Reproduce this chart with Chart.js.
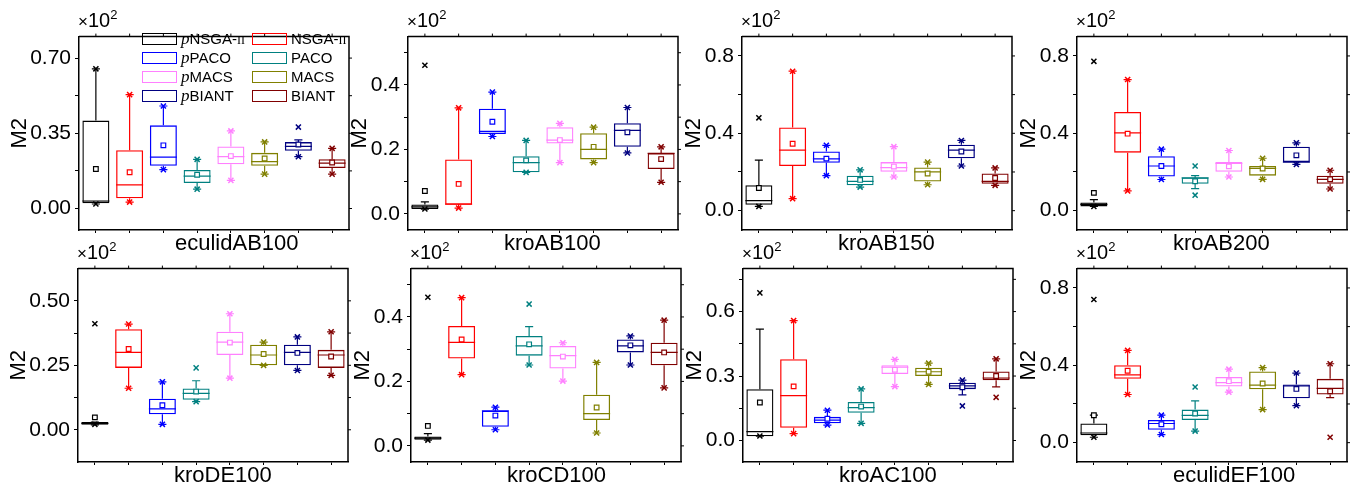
<!DOCTYPE html>
<html>
<head>
<meta charset="utf-8">
<script src="https://cdn.jsdelivr.net/npm/chart.js@4.4.0/dist/chart.umd.min.js"></script>
<style>
body { margin: 0; width: 1356px; height: 489px; background: #fff; position: relative; overflow: hidden;
       font-family: "Liberation Sans", Arial, sans-serif; color: #000; }
canvas { position: absolute; }
.mult { position: absolute; font-size: 20px; line-height: 20px; white-space: nowrap; z-index: 2; }
.mult .x { font-size: 17px; }
.mult sup { font-size: 13px; vertical-align: 8px; line-height: 0; }
.xtitle { position: absolute; font-size: 22px; line-height: 22px; white-space: nowrap; z-index: 2; }
.lg-rect { position: absolute; width: 35px; height: 12px; box-sizing: border-box; border: 1.5px solid; z-index: 2; }
.lg-text { position: absolute; font-size: 15px; line-height: 15px; white-space: nowrap; z-index: 2; }
.lg-text i { font-family: "Liberation Serif", serif; font-size: 17px; }
.lg-text .sc { font-family: "Liberation Serif", serif; font-size: 12px; }
</style>
</head>
<body>
<script>
// Panels (instances) and algorithms
const panels = ['eculidAB100', 'kroAB100', 'kroAB150', 'kroAB200', 'kroDE100', 'kroCD100', 'kroAC100', 'eculidEF100'];
const algorithms = ['pNSGA-II', 'NSGA-II', 'pPACO', 'PACO', 'pMACS', 'MACS', 'pBIANT', 'BIANT'];
const colors = ['#000000', '#FF0000', '#0000FF', '#008080', '#FF80FF', '#808000', '#000080', '#800000'];

// Y axis per panel (values shown are x10^2)
const yMin = [-0.1, -0.05, -0.1, -0.1, -0.125, -0.05, -0.1, -0.1];
const yMax = [0.8, 0.55, 0.9, 0.9, 0.625, 0.55, 0.8, 0.9];
const yMajor = [
    [0, 0.35, 0.70], [0, 0.2, 0.4], [0, 0.4, 0.8], [0, 0.4, 0.8],
    [0, 0.25, 0.50], [0, 0.2, 0.4], [0, 0.3, 0.6], [0, 0.4, 0.8]
];
const yDecimals = [2, 1, 1, 1, 2, 1, 1, 1];

// Box statistics, one row per panel, one value per algorithm
const q1 = [
    [0.025, 0.048, 0.199, 0.119, 0.206, 0.199, 0.269, 0.188],
    [0.015, 0.028, 0.248, 0.129, 0.218, 0.169, 0.208, 0.139],
    [0.030, 0.231, 0.248, 0.131, 0.201, 0.151, 0.271, 0.139],
    [0.022, 0.300, 0.177, 0.139, 0.201, 0.181, 0.251, 0.139],
    [0.019, 0.240, 0.060, 0.116, 0.290, 0.250, 0.250, 0.240],
    [0.019, 0.271, 0.059, 0.280, 0.240, 0.080, 0.290, 0.250],
    [0.020, 0.059, 0.080, 0.129, 0.309, 0.300, 0.239, 0.281],
    [0.038, 0.330, 0.067, 0.117, 0.290, 0.276, 0.229, 0.249]
];
const median = [
    [0.035, 0.110, 0.239, 0.151, 0.241, 0.218, 0.289, 0.211],
    [0.022, 0.030, 0.256, 0.159, 0.229, 0.200, 0.259, 0.188],
    [0.052, 0.313, 0.268, 0.151, 0.223, 0.201, 0.313, 0.151],
    [0.032, 0.402, 0.231, 0.170, 0.245, 0.219, 0.251, 0.162],
    [0.025, 0.300, 0.081, 0.141, 0.340, 0.290, 0.300, 0.290],
    [0.024, 0.321, 0.109, 0.310, 0.280, 0.100, 0.310, 0.290],
    [0.041, 0.209, 0.095, 0.153, 0.341, 0.320, 0.254, 0.291],
    [0.050, 0.350, 0.099, 0.141, 0.310, 0.298, 0.293, 0.281]
];
const q3 = [
    [0.409, 0.271, 0.387, 0.179, 0.289, 0.259, 0.309, 0.229],
    [0.029, 0.169, 0.326, 0.179, 0.269, 0.250, 0.281, 0.188],
    [0.131, 0.430, 0.306, 0.181, 0.251, 0.223, 0.341, 0.192],
    [0.042, 0.510, 0.281, 0.172, 0.251, 0.231, 0.331, 0.181],
    [0.030, 0.390, 0.120, 0.160, 0.380, 0.330, 0.330, 0.310],
    [0.029, 0.372, 0.109, 0.341, 0.310, 0.159, 0.330, 0.320],
    [0.239, 0.378, 0.110, 0.179, 0.350, 0.339, 0.269, 0.321],
    [0.099, 0.400, 0.117, 0.171, 0.340, 0.368, 0.301, 0.330]
];
const mean = [
    [0.184, 0.169, 0.294, 0.157, 0.244, 0.233, 0.298, 0.214],
    [0.071, 0.093, 0.286, 0.166, 0.229, 0.208, 0.253, 0.170],
    [0.117, 0.346, 0.269, 0.159, 0.228, 0.192, 0.306, 0.169],
    [0.092, 0.398, 0.231, 0.152, 0.229, 0.218, 0.286, 0.162],
    [0.048, 0.313, 0.095, 0.148, 0.338, 0.294, 0.298, 0.284],
    [0.062, 0.330, 0.094, 0.315, 0.277, 0.119, 0.312, 0.290],
    [0.177, 0.252, 0.101, 0.158, 0.329, 0.320, 0.248, 0.300],
    [0.142, 0.372, 0.095, 0.151, 0.318, 0.306, 0.278, 0.266]
];
const whiskerLow = [
    [0.021, 0.030, 0.181, 0.090, 0.131, 0.160, 0.241, 0.160],
    [0.015, 0.018, 0.240, 0.129, 0.159, 0.159, 0.189, 0.098],
    [0.022, 0.062, 0.181, 0.122, 0.174, 0.134, 0.231, 0.131],
    [0.022, 0.102, 0.161, 0.114, 0.174, 0.162, 0.239, 0.112],
    [0.019, 0.161, 0.021, 0.109, 0.200, 0.250, 0.230, 0.211],
    [0.018, 0.221, 0.050, 0.251, 0.201, 0.040, 0.251, 0.180],
    [0.020, 0.032, 0.072, 0.080, 0.251, 0.261, 0.212, 0.250],
    [0.028, 0.249, 0.042, 0.060, 0.261, 0.171, 0.191, 0.233]
];
const whiskerHigh = [
    [0.650, 0.530, 0.477, 0.229, 0.361, 0.310, 0.319, 0.280],
    [0.037, 0.329, 0.378, 0.228, 0.281, 0.269, 0.330, 0.208],
    [0.261, 0.721, 0.338, 0.211, 0.331, 0.251, 0.363, 0.221],
    [0.057, 0.678, 0.318, 0.181, 0.311, 0.271, 0.351, 0.209],
    [0.030, 0.410, 0.186, 0.190, 0.450, 0.340, 0.360, 0.380],
    [0.038, 0.460, 0.120, 0.370, 0.320, 0.259, 0.341, 0.390],
    [0.518, 0.558, 0.141, 0.240, 0.378, 0.360, 0.281, 0.380],
    [0.142, 0.477, 0.142, 0.216, 0.380, 0.388, 0.360, 0.408]
];
// x markers (extreme values)
const crossLow = [
    [0.021, 0.030, 0.181, 0.090, 0.131, 0.160, 0.241, 0.160],
    [0.015, 0.018, 0.240, 0.129, 0.159, 0.159, 0.189, 0.098],
    [0.022, 0.062, 0.181, 0.122, 0.174, 0.134, 0.231, 0.131],
    [0.022, 0.102, 0.161, 0.080, 0.174, 0.162, 0.239, 0.112],
    [0.021, 0.161, 0.021, 0.109, 0.200, 0.250, 0.230, 0.211],
    [0.018, 0.221, 0.050, 0.251, 0.201, 0.040, 0.251, 0.180],
    [0.021, 0.032, 0.072, 0.080, 0.251, 0.261, 0.161, 0.201],
    [0.028, 0.249, 0.042, 0.060, 0.261, 0.171, 0.191, 0.028]
];
const crossHigh = [
    [0.650, 0.530, 0.477, 0.229, 0.361, 0.310, 0.379, 0.280],
    [0.461, 0.329, 0.378, 0.228, 0.281, 0.269, 0.330, 0.208],
    [0.480, 0.721, 0.338, 0.211, 0.331, 0.251, 0.363, 0.221],
    [0.772, 0.678, 0.318, 0.231, 0.311, 0.271, 0.351, 0.209],
    [0.411, 0.410, 0.186, 0.240, 0.450, 0.340, 0.360, 0.380],
    [0.461, 0.460, 0.120, 0.440, 0.320, 0.259, 0.341, 0.390],
    [0.687, 0.558, 0.141, 0.240, 0.378, 0.360, 0.281, 0.380],
    [0.740, 0.477, 0.142, 0.288, 0.380, 0.388, 0.360, 0.408]
];

// Page layout: plot area of each panel
const plotLeft = [79, 408, 742, 1077, 78, 411, 743, 1077];
const plotTop = [30, 30, 30, 30, 262, 262, 262, 262];
const plotW = 270, plotH = 200;
const PAD_L = 75, PAD_T = 10, PAD_R = 8, PAD_B = 30;

// major ticks plus half-step minor ticks
function buildTicks(p) {
    const major = yMajor[p];
    const step = (major[1] - major[0]) / 2;
    const out = [];
    const start = Math.ceil(yMin[p] / step - 1e-9);
    const end = Math.floor(yMax[p] / step + 1e-9);
    for (let k = start; k <= end; k++) {
        const v = +(k * step).toFixed(6);
        if (v > yMin[p] + 1e-9 && v < yMax[p] - 1e-9) out.push(v);
    }
    return out;
}
function isMajor(p, v) {
    return yMajor[p].some(m => Math.abs(m - v) < 1e-6);
}

// median, whiskers and caps
const boxParts = {
    id: 'boxParts',
    beforeDatasetsDraw(chart, args, opts) {
        const p = opts.panel;
        const ctx = chart.ctx;
        const y = chart.scales.y;
        const meta = chart.getDatasetMeta(3);
        ctx.save();
        ctx.lineWidth = 1.2;
        meta.data.forEach((bar, i) => {
            const x = bar.x, hw = bar.width / 2, cap = hw * 0.3;
            const py = v => y.getPixelForValue(v);
            ctx.strokeStyle = colors[i];
            ctx.beginPath();
            ctx.moveTo(x - hw, py(median[p][i]));
            ctx.lineTo(x + hw, py(median[p][i]));
            ctx.moveTo(x, py(q3[p][i]));
            ctx.lineTo(x, py(whiskerHigh[p][i]));
            ctx.moveTo(x, py(q1[p][i]));
            ctx.lineTo(x, py(whiskerLow[p][i]));
            ctx.moveTo(x - cap, py(whiskerHigh[p][i]));
            ctx.lineTo(x + cap, py(whiskerHigh[p][i]));
            ctx.moveTo(x - cap, py(whiskerLow[p][i]));
            ctx.lineTo(x + cap, py(whiskerLow[p][i]));
            ctx.stroke();
        });
        ctx.restore();
    }
};

// top / right frame with outward ticks
const frame = {
    id: 'frame',
    afterDraw(chart) {
        const {ctx, chartArea: a, scales} = chart;
        ctx.save();
        ctx.strokeStyle = '#000';
        ctx.lineWidth = 1.5;
        ctx.beginPath();
        ctx.moveTo(a.left, a.top);
        ctx.lineTo(a.right, a.top);
        ctx.lineTo(a.right, a.bottom);
        ctx.stroke();
        ctx.lineWidth = 1;
        ctx.beginPath();
        scales.x.ticks.forEach((t, i) => {
            const x = scales.x.getPixelForTick(i);
            ctx.moveTo(x, a.top);
            ctx.lineTo(x, a.top - 3);
        });
        scales.y.ticks.forEach(t => {
            const yy = scales.y.getPixelForValue(t.value);
            ctx.moveTo(a.right, yy);
            ctx.lineTo(a.right + 3, yy);
        });
        ctx.stroke();
        ctx.restore();
    }
};

function makePanel(p) {
    const cv = document.createElement('canvas');
    cv.width = PAD_L + plotW + PAD_R;
    cv.height = PAD_T + plotH + PAD_B;
    cv.style.left = (plotLeft[p] - PAD_L) + 'px';
    cv.style.top = (plotTop[p] - PAD_T) + 'px';
    document.body.appendChild(cv);
    const dec = yDecimals[p];

    new Chart(cv.getContext('2d'), {
        type: 'bar',
        data: {
            labels: algorithms,
            datasets: [
                {
                    type: 'line', data: mean[p], showLine: false, order: 0,
                    pointStyle: 'rect', pointRadius: 3.3, pointBorderWidth: 1.2,
                    pointBackgroundColor: '#fff', pointBorderColor: colors
                },
                {
                    type: 'line', data: crossLow[p], showLine: false, order: 0,
                    pointStyle: 'crossRot', pointRadius: 3.6, pointBorderWidth: 1.5,
                    pointBorderColor: colors
                },
                {
                    type: 'line', data: crossHigh[p], showLine: false, order: 0,
                    pointStyle: 'crossRot', pointRadius: 3.6, pointBorderWidth: 1.5,
                    pointBorderColor: colors
                },
                {
                    data: q1[p].map((v, i) => [v, q3[p][i]]), order: 1,
                    backgroundColor: 'rgba(255,255,255,0)', borderColor: colors,
                    borderWidth: 1.3, borderSkipped: false,
                    barPercentage: 0.8, categoryPercentage: 1
                }
            ]
        },
        options: {
            responsive: false,
            animation: false,
            devicePixelRatio: 1,
            events: [],
            layout: { padding: { left: 0, top: PAD_T, right: PAD_R, bottom: 0 } },
            plugins: {
                legend: { display: false },
                tooltip: { enabled: false },
                boxParts: { panel: p }
            },
            scales: {
                x: {
                    afterFit: s => { s.height = PAD_B; },
                    ticks: { display: false },
                    grid: { drawOnChartArea: false, drawTicks: true, tickLength: 3, tickColor: '#000', offset: false },
                    border: { color: '#000', width: 1.5 }
                },
                y: {
                    min: yMin[p],
                    max: yMax[p],
                    afterFit: s => { s.width = PAD_L; },
                    afterBuildTicks: s => { s.ticks = buildTicks(p).map(v => ({ value: v })); },
                    ticks: {
                        autoSkip: false,
                        color: '#000',
                        padding: 4,
                        font: { size: 21, family: '"Liberation Sans", Arial' },
                        callback: v => isMajor(p, v) ? v.toFixed(dec) : ''
                    },
                    grid: { drawOnChartArea: false, drawTicks: true, tickLength: 4, tickColor: '#000' },
                    border: { color: '#000', width: 1.5 },
                    title: {
                        display: true, text: 'M2', color: '#000',
                        font: { size: 22, family: '"Liberation Sans", Arial' },
                        padding: { top: dec === 2 ? 2.3 : 13.3, bottom: 0 }
                    }
                }
            }
        },
        plugins: [boxParts, frame]
    });

    // x10^2 multiplier and instance name
    const m = document.createElement('div');
    m.className = 'mult';
    m.innerHTML = '<span class="x">×</span>10<sup>2</sup>';
    m.style.left = (plotLeft[p] - 1) + 'px';
    m.style.top = (plotTop[p] - 20) + 'px';
    document.body.appendChild(m);

    const t = document.createElement('div');
    t.className = 'xtitle';
    t.textContent = panels[p];
    t.style.left = (plotLeft[p] + 96) + 'px';
    t.style.top = (plotTop[p] + plotH + 2) + 'px';
    document.body.appendChild(t);
}

function legendLabel(name) {
    let pre = '', s = name;
    if (s[0] === 'p') { pre = '<i>p</i>'; s = s.slice(1); }
    return pre + s.replace('-II', '-<span class="sc">II</span>');
}

// legend inside the first panel, two columns
function makeLegend() {
    algorithms.forEach((name, i) => {
        const col = i % 2, row = Math.floor(i / 2);
        const cy = 38.5 + row * 19;
        const rx = plotLeft[0] + 63 + col * 110;
        const r = document.createElement('div');
        r.className = 'lg-rect';
        r.style.borderColor = colors[i];
        r.style.left = rx + 'px';
        r.style.top = (cy - 6) + 'px';
        document.body.appendChild(r);
        const t = document.createElement('div');
        t.className = 'lg-text';
        t.innerHTML = legendLabel(name);
        t.style.left = (rx + 39) + 'px';
        t.style.top = (cy - 8) + 'px';
        document.body.appendChild(t);
    });
}

document.addEventListener('DOMContentLoaded', function() {
    panels.forEach((name, p) => makePanel(p));
    makeLegend();
});
</script>
</body>
</html>
